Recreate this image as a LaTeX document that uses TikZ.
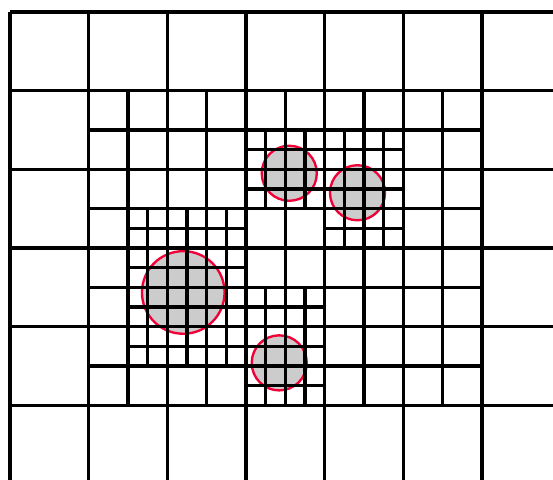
\documentclass[tikz,border=0pt]{standalone}
\definecolor{rim}{RGB}{240,0,55}
\definecolor{blob}{RGB}{204,204,204}
\tikzset{
  mesh/.style={line width=2.2pt, black},
  particle/.style={draw=rim, fill=blob, line width=1.7pt}
}
\begin{document}
\begin{tikzpicture}[x=0.5cm,y=0.5cm]
\clip (-0.508,0.61) rectangle (27.61,-23.75);

\draw[particle] (14.2,-8.2) circle (1.4);
\draw[particle] (17.67,-9.19) circle (1.4);
\draw[particle] (8.81,-14.26) circle (2.1);
\draw[particle] (13.69,-17.84) circle (1.4);

\draw[mesh,step=4] (0,0) grid (28,-24);
\draw[mesh,step=2] (4,-4) grid (24,-20);

\draw[mesh,step=1] (12,-6) grid (16,-10);
\draw[mesh,step=1] (16,-6) grid (20,-12);
\draw[mesh,step=1] (6,-10) grid (12,-18);
\draw[mesh,step=1] (12,-14) grid (16,-20);
\end{tikzpicture}
\end{document}
